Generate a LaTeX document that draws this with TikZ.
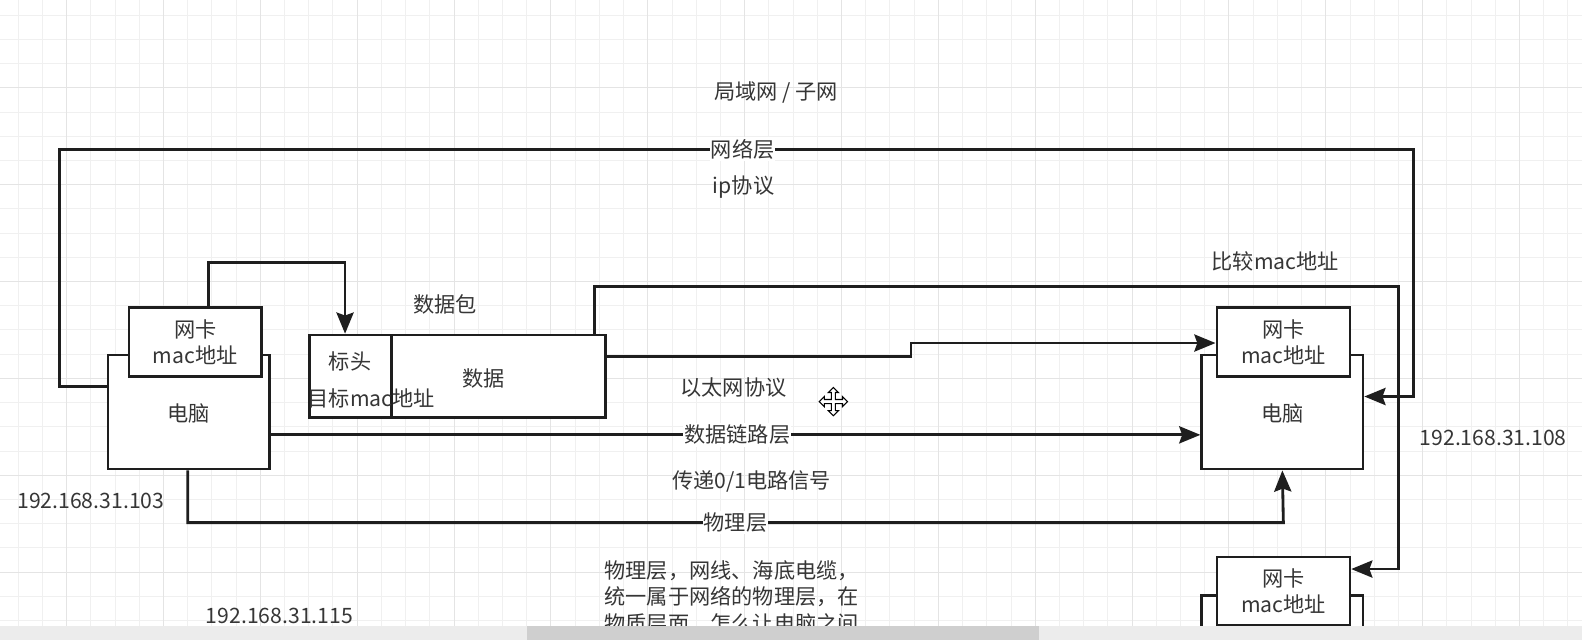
\documentclass[tikz,border=0pt]{standalone}
\usepackage{fontspec}
\newfontfamily\cjk{Noto Sans CJK SC}
\usetikzlibrary{arrows.meta}
\definecolor{lc}{HTML}{1E1E1E}
\definecolor{tc}{HTML}{363636}
\definecolor{gridc}{HTML}{F0F0F0}
\definecolor{gridm}{HTML}{E4E4E4}
\definecolor{barc}{HTML}{ECECEC}
\definecolor{thumbc}{HTML}{CFCFCF}
\tikzset{
  box/.style={draw=lc, line width=2.5pt, fill=white, inner sep=0pt, font=\cjk\fontsize{21}{26}\selectfont, text=tc, align=center},
  conn/.style={draw=lc, line width=2.8pt},
  arr/.style={conn, -{Stealth[length=21pt,width=17pt,inset=3pt]}},
  txt/.style={font=\cjk\fontsize{21}{26}\selectfont, text=tc, inner sep=0pt, align=center},
  lbl/.style={txt, fill=white, inner xsep=1pt, inner ysep=2pt},
}
\begin{document}
\begin{tikzpicture}[x=1pt,y=-1pt]
\useasboundingbox (0,0) rectangle (1568,634);
\clip (0,0) rectangle (1568,634);
\fill[white] (0,0) rectangle (1568,634);
% grid
\foreach \x in {18,42,...,1568} \draw[gridc, line width=0.9pt] (\x,0) -- (\x,634);
\foreach \y in {15,39,...,634} \draw[gridc, line width=0.9pt] (0,\y) -- (1568,\y);
\foreach \x in {66,162,...,1568} \draw[gridm, line width=1pt] (\x,0) -- (\x,634);
\foreach \y in {87,183,...,634} \draw[gridm, line width=1pt] (0,\y) -- (1568,\y);

% computers and NICs
\node[box, minimum width=160pt, minimum height=113pt] (pc1) at (187,408.5) {};
\node[txt] (pc1t) at (187,410) {电脑};
\node[box, minimum width=131pt, minimum height=68pt] (nic1) at (193.5,339) {网卡\\mac地址};

\node[box, minimum width=160pt, minimum height=113pt] (pc2) at (1271,408.5) {};
\node[txt] (pc2t) at (1271,410) {电脑};
\node[box, minimum width=132pt, minimum height=68pt] (nic2) at (1272,339) {网卡\\mac地址};

\node[box, minimum width=160pt, minimum height=113pt] (pc3) at (1271,646.5) {};
\node[box, minimum width=132pt, minimum height=68pt] (nic3) at (1272,586) {网卡\\mac地址};

% packet
\node[box, minimum width=81pt, minimum height=82pt] (hdr) at (347.5,373) {};
\node[box, minimum width=212pt, minimum height=82pt] (data) at (494,373) {};
\node[txt] (hdrt) at (347,358) {标头};
\node[txt] (hdrm) at (368,395) {目标mac地址};
\node[txt] (datat) at (479,375) {数据};
\node[txt] (pkt) at (441,302) {数据包};

% helper coordinates
\coordinate (y383) at (0,383);
\coordinate (y393) at (0,393);
\coordinate (x207) at (207,0);
\coordinate (x342) at (342,0);
\coordinate (y353) at (0,353);
\coordinate (y340) at (0,340);
\coordinate (x589) at (589,0);
\coordinate (y564) at (0,564);
\coordinate (y431) at (0,431);
\coordinate (x186) at (186,0);

% network layer
\draw[arr] (pc1.west |- y383) -- (59,383) -- (59,148) -- node[lbl, pos=0.5045] (netl) {网络层} (1401,148) -- (1401,393) -- (pc2.east |- y393);
% NIC -> header
\draw[arr] (nic1.north -| x207) -- (207,260) -- (342,260) -- (hdr.north -| x342);
% ethernet
\draw[arr] (data.east |- y353) -- (903,353) -- (903,340) -- (nic2.west |- y340);
% compare mac
\draw[arr] (data.north -| x589) -- (589,284) -- (1386,284) -- (1386,564) -- (nic3.east |- y564);
% data link layer
\draw[arr] (pc1.east |- y431) -- node[lbl, pos=0.502] (dll) {数据链路层} (pc2.west |- y431);
% physical layer
\draw[arr] (pc1.south -| x186) -- (186,518) -- node[lbl, pos=0.5] (phy) {物理层} (1272,518) -- (pc2.south);

% texts
\node[txt] (title) at (769,92) {局域网 / 子网};
\node[txt] (ip) at (737,185) {ip协议};
\node[txt] (cmp) at (1264,259) {比较mac地址};
\node[txt] (eth) at (727,384) {以太网协议};
\node[txt] (sig) at (745,477) {传递0/1电路信号};
\node[txt] (ip103) at (90,497) {192.168.31.103};
\node[txt] (ip115) at (277,610) {192.168.31.115};
\node[txt] (ip108) at (1480,434) {192.168.31.108};
\node[txt, anchor=north west, align=left, font=\cjk\fontsize{21}{26.5}\selectfont] (para) at (599,555) {物理层，网线、海底电缆，\\统一属于网络的物理层，在\\物质层面，怎么让电脑之间};

% cursor
\begin{scope}[shift={(826,398)}]
\draw[black, line width=1.1pt, fill=white, line join=miter]
 (0,-14) -- (5,-9) -- (2,-9) -- (2,-2) -- (9,-2) -- (9,-5) -- (14,0) -- (9,5) -- (9,2) -- (2,2) -- (2,9) -- (5,9) -- (0,14) -- (-5,9) -- (-2,9) -- (-2,2) -- (-9,2) -- (-9,5) -- (-14,0) -- (-9,-5) -- (-9,-2) -- (-2,-2) -- (-2,-9) -- (-5,-9) -- cycle;
\end{scope}

% scrollbar
\fill[barc] (0,620) rectangle (1568,634);
\fill[thumbc] (522,620) rectangle (1030,634);
\end{tikzpicture}
\end{document}
